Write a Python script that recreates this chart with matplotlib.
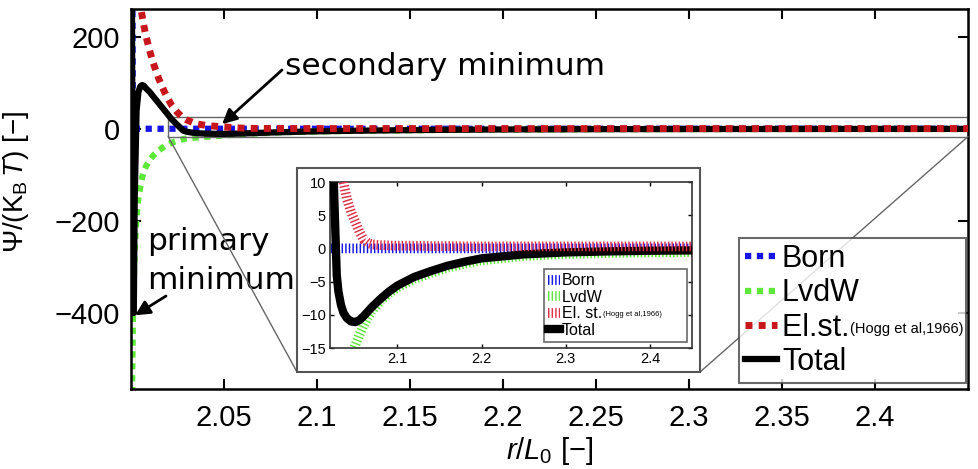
import matplotlib
matplotlib.use("Agg")
import matplotlib.pyplot as plt
from matplotlib.patches import Rectangle, ConnectionPatch

plt.rcParams['font.family'] = ['Liberation Sans', 'DejaVu Sans']
plt.rcParams['mathtext.fontset'] = 'custom'
plt.rcParams['mathtext.rm'] = 'Liberation Sans'
plt.rcParams['mathtext.it'] = 'Liberation Sans:italic'
plt.rcParams['mathtext.bf'] = 'Liberation Sans:bold'

# distance r/L0 and interaction potentials Psi/(kB T)
r = [2.0005, 2.001, 2.0015, 2.002, 2.003, 2.004, 2.005, 2.006, 2.007, 2.008,
     2.010, 2.012, 2.015, 2.018, 2.020, 2.022, 2.025, 2.028, 2.030, 2.033,
     2.036, 2.040, 2.045, 2.050, 2.055, 2.060, 2.065, 2.070, 2.080, 2.090,
     2.100, 2.120, 2.140, 2.160, 2.180, 2.200, 2.250, 2.300, 2.350, 2.400, 2.450]
born = [600] + [0] * 40
lvdw = [-600, -420, -330, -260, -190, -150, -125, -105, -92, -82,
        -68, -58, -47, -38, -34, -30, -26, -22.5, -21, -19.8,
        -19, -17.8, -16.2, -14.6, -13.0, -11.6, -10.4, -9.4, -7.9, -6.8,
        -5.9, -4.6, -3.7, -2.9, -2.3, -1.8, -1.15, -0.85, -0.7, -0.6, -0.55]
elst = [420, 400, 380, 360, 330, 300, 270, 245, 222, 202,
        170, 142, 108, 80, 64, 50, 35, 24, 19, 14,
        10, 7.5, 5.5, 4.0, 2.5, 1.3, 0.8, 0.6, 0.5, 0.45,
        0.4, 0.4, 0.35, 0.35, 0.3, 0.3, 0.3, 0.3, 0.3, 0.3, 0.3]
total = [300, -400, -400, -150, 40, 80, 92, 95, 93, 88,
         80, 70, 55, 40, 30, 20, 8, -4, -6.5, -8.5,
         -9.7, -10.5, -11.0, -11.1, -10.8, -10.2, -9.5, -8.8, -7.6, -6.5,
         -5.6, -4.3, -3.4, -2.6, -2.0, -1.5, -0.9, -0.6, -0.45, -0.35, -0.3]

main_xticks = [2.05, 2.1, 2.15, 2.2, 2.25, 2.3, 2.35, 2.4]
main_yticks = [-400, -200, 0, 200]
ins_xticks = [2.1, 2.2, 2.3, 2.4]
ins_yticks = [-15, -10, -5, 0, 5, 10]

c_born = '#1515e6'
c_lvdw = '#5ee83a'
c_elst = '#c8161d'
c_elst2 = '#e03048'

W, H = 979, 469
fig = plt.figure(figsize=(W / 100, H / 100), dpi=100)

def px(x0, y0, x1, y1):
    # pixel box (top-left origin) -> figure fraction rect
    return [x0 / W, 1 - y1 / H, (x1 - x0) / W, (y1 - y0) / H]

ax = fig.add_axes(px(131, 9, 968, 389))
dots = (0, (1, 0.9))
ax.plot(r, born, color=c_born, lw=4.5, ls=dots, label='Born', zorder=2)
ax.plot(r, lvdw, color=c_lvdw, lw=4.5, ls=dots, label='LvdW', zorder=2)
ax.plot(r, elst, color=c_elst, lw=5, ls=dots, label='El.st.' + '\u00a0' * 13, zorder=3.5)
ax.plot(r, total, color='black', lw=4.5, label='Total', zorder=3)
ax.set_xlim(2.0, 2.45)
ax.set_ylim(-565, 260)
ax.set_xticks(main_xticks)
ax.set_xticklabels(['2.05', '2.1', '2.15', '2.2', '2.25', '2.3', '2.35', '2.4'])
ax.set_yticks(main_yticks)
ax.tick_params(direction='in', top=True, right=True, length=7, width=1.5,
               labelsize=21, pad=8)
ax.tick_params(axis='x', pad=11)
for s in ax.spines.values():
    s.set_linewidth(1.8)
ax.set_xlabel(r'$r/L_0$ [−]', fontsize=21, labelpad=2)
fig.text(16 / W, 1 - 182 / H, r'$\Psi/(\mathrm{K}_\mathrm{B}\,T)$ [−]', fontsize=20,
         rotation=90, ha='center', va='center')

# annotations
ax.text(285 / W, 1 - 75 / H, 'secondary minimum', transform=fig.transFigure,
        fontsize=22.5, family='DejaVu Sans', va='baseline', ha='left')
ax.annotate('', xy=(2.049, 10), xycoords='data',
            xytext=(282 / W, 1 - 70 / H), textcoords='figure fraction',
            arrowprops=dict(arrowstyle='-|>', lw=2, color='black', mutation_scale=22,
                            shrinkA=0, shrinkB=0))
ax.text(147 / W, 1 - 250 / H, 'primary', transform=fig.transFigure,
        fontsize=22.5, family='DejaVu Sans', va='baseline', ha='left')
ax.text(147 / W, 1 - 289 / H, 'minimum', transform=fig.transFigure,
        fontsize=22.5, family='DejaVu Sans', va='baseline', ha='left')
ax.annotate('', xy=(2.0022, -405), xycoords='data',
            xytext=(166 / W, 1 - 296 / H), textcoords='figure fraction',
            arrowprops=dict(arrowstyle='-|>', lw=2, color='black', mutation_scale=22,
                            shrinkA=0, shrinkB=0))

# zoom rectangle, inset frame and connectors
ax.add_patch(Rectangle((2.02, -17), 0.43, 43, fill=False, ec='#666666', lw=1.0, zorder=2.5))
frame = Rectangle((297 / W, 1 - 372 / H), 403 / W, 204 / H, transform=fig.transFigure,
                  fc='white', ec='#555555', lw=1.5, zorder=4.5, clip_on=False)
ax.add_artist(frame)
for xa, xb in [(2.02, 297), (2.45, 700)]:
    con = ConnectionPatch(xyA=(xa, -17), coordsA=ax.transData,
                          xyB=(xb / W, 1 - 372 / H), coordsB=fig.transFigure,
                          color='#666666', lw=1.0, zorder=4)
    ax.add_artist(con)

leg = ax.legend(loc='lower right', bbox_to_anchor=(0.9976, 0.016), fontsize=22,
                handlelength=1.05, handletextpad=0.15, labelspacing=0.14,
                borderpad=0.2, borderaxespad=0, frameon=True, fancybox=False)
leg.get_frame().set_edgecolor('#444444')
leg.get_frame().set_linewidth(1.5)
leg.set_zorder(5)

# inset
axin = fig.add_axes(px(330, 182, 692, 348))
bars = (0, (0.15, 0.22))
axin.plot(r, born, color=c_born, lw=7, ls=bars, label='Born')
axin.plot(r, lvdw, color=c_lvdw, lw=7, ls=bars, label='LvdW')
axin.plot(r, total, color='black', lw=6, label='Total', zorder=3)
axin.plot(r, elst, color=c_elst2, lw=7, ls=bars, label='El. st.' + '\u00a0' * 18, zorder=3.5)
axin.set_xlim(2.02, 2.45)
axin.set_ylim(-15, 10)
axin.set_xticks(ins_xticks)
axin.set_yticks(ins_yticks)
axin.set_yticklabels(['−15', '−10', '−5', '0', '5', '10'])
axin.tick_params(direction='in', top=True, right=True, length=3, width=1,
                 labelsize=10.5, pad=3)
for s in axin.spines.values():
    s.set_linewidth(1.2)
    s.set_color('#333333')
h, l = axin.get_legend_handles_labels()
order = [0, 1, 3, 2]
leg2 = axin.legend([h[i] for i in order], [l[i] for i in order], loc='lower right',
                   bbox_to_anchor=(0.986, 0.036), fontsize=11.5, handlelength=0.75,
                   handletextpad=0.1, labelspacing=0.1, borderpad=0.25,
                   borderaxespad=0, fancybox=False)
leg2.get_frame().set_edgecolor('#444444')
leg2.get_frame().set_linewidth(1.2)

# small citation text next to El.st. labels
fig.canvas.draw()
rend = fig.canvas.get_renderer()
for lg, base, size, lift in [(leg, 'El.st.', 10.5, 3), (leg2, 'El. st.', 5.4, 2)]:
    t = [tt for tt in lg.get_texts() if tt.get_text().startswith(base)][0]
    bb = t.get_window_extent(rend)
    w, hh, d = rend.get_text_width_height_descent(base, t.get_fontproperties(), ismath=False)
    _, _, dl = rend.get_text_width_height_descent('lp', t.get_fontproperties(), ismath=False)
    fig.text((bb.x0 + w + 1) / W, (bb.y0 + dl + lift) / H, '(Hogg et al,1966)',
             fontsize=size, va='baseline', ha='left', zorder=10)

fig.savefig('out.png', dpi=100)
